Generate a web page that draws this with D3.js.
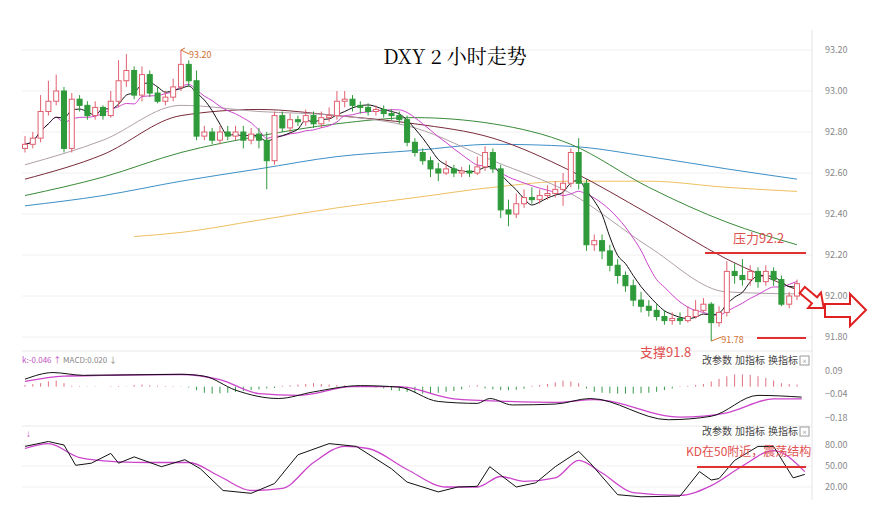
<!DOCTYPE html><html><head><meta charset="utf-8">
<script src="https://cdn.jsdelivr.net/npm/d3@7"></script>
<style>body{margin:0;background:#fff}svg{display:block}</style></head><body>
<svg id="c" width="869" height="520"></svg>
<script>
const opens=[92.72,92.74,92.77,92.90,92.95,93.00,92.72,92.96,92.93,92.88,
92.92,92.88,92.95,93.05,93.10,92.98,93.08,92.99,92.95,92.97,
93.02,93.13,93.05,92.78,92.80,92.76,92.80,92.78,92.80,92.76,
92.79,92.76,92.66,92.88,92.82,92.86,92.85,92.88,92.84,92.87,
92.88,92.95,92.96,92.93,92.92,92.90,92.91,92.89,92.88,92.86,
92.75,92.70,92.66,92.62,92.60,92.62,92.60,92.61,92.60,92.63,
92.70,92.62,92.42,92.40,92.45,92.48,92.47,92.49,92.50,92.52,
92.55,92.70,92.55,92.25,92.27,92.22,92.15,92.10,92.05,91.98,
91.95,91.93,91.90,91.88,91.89,91.88,91.90,91.93,91.96,91.87,
91.92,92.12,92.10,92.08,92.12,92.07,92.12,92.08,91.96,92.00];
const closes=[92.74,92.77,92.90,92.95,93.00,92.72,92.96,92.93,92.88,92.92,
92.88,92.95,93.05,93.10,92.98,93.08,92.99,92.95,92.97,93.02,
93.13,93.05,92.78,92.80,92.76,92.80,92.78,92.80,92.76,92.79,
92.76,92.66,92.88,92.82,92.86,92.85,92.88,92.84,92.87,92.88,
92.95,92.96,92.93,92.92,92.90,92.91,92.89,92.88,92.86,92.75,
92.70,92.66,92.62,92.60,92.62,92.60,92.61,92.60,92.63,92.70,
92.62,92.42,92.40,92.45,92.48,92.47,92.49,92.50,92.52,92.55,
92.70,92.55,92.25,92.27,92.22,92.15,92.10,92.05,91.98,91.95,
91.93,91.90,91.88,91.89,91.88,91.90,91.93,91.96,91.87,91.92,
92.12,92.10,92.08,92.12,92.07,92.12,92.08,91.96,92.00,92.06];
const highs=[92.78,92.80,92.98,93.05,93.08,93.02,92.99,92.98,92.95,92.95,
92.93,93.00,93.15,93.18,93.12,93.12,93.10,93.02,93.00,93.06,
93.20,93.15,93.10,92.83,92.82,92.83,92.83,92.83,92.83,92.82,
92.82,92.80,92.90,92.90,92.89,92.88,92.91,92.90,92.90,92.92,
93.00,93.00,92.98,92.95,92.94,92.93,92.93,92.91,92.90,92.88,
92.77,92.72,92.68,92.65,92.66,92.64,92.63,92.64,92.68,92.73,
92.72,92.64,92.47,92.50,92.52,92.53,92.52,92.54,92.56,92.60,
92.72,92.77,92.57,92.30,92.30,92.25,92.18,92.12,92.08,92.02,
91.98,91.96,91.93,91.92,91.92,91.95,91.98,91.99,91.97,91.95,
92.17,92.16,92.18,92.15,92.14,92.15,92.14,92.10,92.02,92.08];
const lows=[92.70,92.72,92.75,92.88,92.93,92.70,92.70,92.90,92.86,92.86,
92.86,92.87,92.92,93.02,92.96,92.95,92.97,92.94,92.93,92.95,
93.00,93.02,92.76,92.76,92.74,92.74,92.76,92.76,92.72,92.74,
92.72,92.52,92.64,92.80,92.80,92.83,92.83,92.82,92.82,92.85,
92.86,92.92,92.90,92.89,92.88,92.88,92.87,92.86,92.84,92.73,
92.68,92.64,92.58,92.56,92.59,92.58,92.58,92.58,92.59,92.61,
92.60,92.38,92.34,92.38,92.43,92.45,92.45,92.47,92.48,92.44,
92.53,92.52,92.22,92.22,92.18,92.12,92.06,92.02,91.95,91.92,
91.90,91.88,91.86,91.86,91.86,91.87,91.89,91.92,91.78,91.85,
91.90,92.06,92.05,92.05,92.04,92.05,92.05,91.95,91.94,91.98];
const maIdx=[0,10,20,30,40,50,60,70,80,90,99];
const ma20=[92.64,92.76,92.93,92.90,92.88,92.82,92.66,92.50,92.24,92.02,92.01];
const ma30=[92.57,92.69,92.88,92.91,92.88,92.84,92.77,92.61,92.40,92.18,92.03];
const ma60=[92.49,92.58,92.70,92.78,92.84,92.87,92.84,92.74,92.53,92.36,92.25];
const ma120=[92.44,92.49,92.56,92.62,92.68,92.71,92.74,92.73,92.68,92.62,92.57];
const ma250Idx=[14,20,30,40,50,60,70,80,90,99];
const ma250=[92.29,92.31,92.37,92.43,92.48,92.53,92.56,92.56,92.53,92.51];
const priceTicks=[93.2,93.0,92.8,92.6,92.4,92.2,92.0,91.8];
const difIdx=[0,3.6,7.5,20,23,27,32.5,37,43,48,53,58,59.6,62.5,68,72.5,82.5,88,94,99.6];
const difVal=[0.043,0.081,0.065,0.071,0.06,-0.02,-0.068,-0.03,0.006,-0.003,-0.085,-0.096,-0.068,-0.105,-0.10,-0.068,-0.19,-0.17,-0.05,-0.06];
const deaIdx=[0,5,10,20,25,30,35,42,48,55,62,68,73,84,90,96,99.6];
const deaVal=[0.03,0.06,0.065,0.07,0.04,-0.04,-0.05,0.0,0.0,-0.07,-0.085,-0.09,-0.075,-0.175,-0.15,-0.07,-0.07];
const hist=[0.01,0.015,0.02,0.03,0.035,0.02,0.005,0.003,0.002,0.002,
0,0.003,0.004,0.002,0.01,0.012,0.008,0.005,0.004,0.003,
0.002,-0.005,-0.02,-0.035,-0.04,-0.038,-0.035,-0.03,-0.025,-0.02,
-0.015,-0.01,-0.008,0.005,0.008,0.012,0.015,0.02,0.015,0.012,
0.01,0.008,0.005,0.003,0.002,-0.005,-0.01,-0.02,-0.025,-0.03,
-0.035,-0.04,-0.038,-0.035,-0.03,-0.025,-0.015,0.005,0.008,-0.01,
-0.015,-0.02,-0.02,-0.018,-0.012,0.005,0.01,0.015,0.025,0.035,
0.03,0.02,-0.01,-0.03,-0.035,-0.038,-0.04,-0.04,-0.04,-0.038,
-0.035,-0.03,-0.02,-0.01,0.003,0.005,0.01,0.015,0.03,0.045,
0.06,0.07,0.07,0.068,0.06,0.05,0.035,0.02,0.015,0.012];
const macdTicks=[0.09,-0.04,-0.18];
const kIdx=[0,3,5,6.5,8.5,11,12,14,17.5,20.5,22.5,25.4,29,32,35,39,42.5,47,49,53,55.5,58,59.6,63,65.5,68,71,72.5,76,79,84,86.5,88,89,91,94,96,98.5,100];
const kVal=[78,85,80,51,54,68,54,63,49,59,46,15,11,25,66,82,78,46,27,13,20,21,49,20,26,49,71,54,9,6,7,42,30,32,58,78,78,33,38];
const dIdx=[0,3,7,12,16,21,25,29,33,37,41,44,49,54,58,61,64,68,71,74,78,84,88,92,96,100];
const dVal=[75,82,62,56,55,55,35,15,18,55,78,75,45,20,20,35,28,33,58,40,12,8,22,50,72,42];
const kdTicks=[80,50,20];

const svg=d3.select("#c");
const font="'Noto Sans CJK SC','Noto Sans',sans-serif";
const x=d3.scaleLinear().domain([0,99]).range([25,797]);
const y=d3.scaleLinear().domain([91.8,93.2]).range([337,50]);
const ym=d3.scaleLinear().domain([-0.18,0.09]).range([418,371]);
const yk=d3.scaleLinear().domain([20,80]).range([487,445]);
const idx=d3.range(closes.length);

svg.append("g").selectAll("line").data(priceTicks).join("line")
 .attr("x1",22).attr("x2",812).attr("y1",d=>y(d)).attr("y2",d=>y(d)).attr("stroke","#f0f0f0");
svg.append("line").attr("x1",812).attr("x2",812).attr("y1",30).attr("y2",500).attr("stroke","#e4e4e4");
svg.append("line").attr("x1",22).attr("x2",812).attr("y1",351).attr("y2",351).attr("stroke","#e8e8e8");
svg.append("line").attr("x1",22).attr("x2",812).attr("y1",426).attr("y2",426).attr("stroke","#e8e8e8");
svg.append("g").selectAll("line").data(kdTicks).join("line")
 .attr("x1",22).attr("x2",812).attr("y1",d=>yk(d)).attr("y2",d=>yk(d)).attr("stroke","#f0f0f0");

const ax=svg.append("g").attr("transform","translate(822,0)")
 .call(d3.axisRight(y).tickValues(priceTicks).tickFormat(d3.format(".2f")).tickSize(0));
const ax2=svg.append("g").attr("transform","translate(822,0)")
 .call(d3.axisRight(ym).tickValues(macdTicks).tickFormat(d3.format(".2f")).tickSize(0));
const ax3=svg.append("g").attr("transform","translate(822,0)")
 .call(d3.axisRight(yk).tickValues(kdTicks).tickFormat(d3.format(".2f")).tickSize(0));
[ax,ax2,ax3].forEach(a=>{a.select(".domain").remove();a.selectAll("text").attr("fill","#888").attr("font-size",9).attr("font-family",font);});

const line=d3.line().curve(d3.curveMonotoneX);
function ma(n){return idx.map(i=>{const s=closes.slice(Math.max(0,i-n+1),i+1);return d3.mean(s);});}
function drawPts(ix,vals,sc,col,w){svg.append("path").attr("d",line(ix.map((v,j)=>[x(v),sc(vals[j])]))).attr("fill","none").attr("stroke",col).attr("stroke-width",w||1);}
drawPts(ma250Idx,ma250,y,"#f0c060");
drawPts(maIdx,ma120,y,"#3d8fc6");
drawPts(maIdx,ma60,y,"#3a8a3a");
drawPts(maIdx,ma30,y,"#7a2a3a");
drawPts(maIdx,ma20,y,"#b0a0a8");
drawPts(idx,ma(10),y,"#cc44cc");
drawPts(idx,ma(5),y,"#111");

const cw=5;
const g=svg.append("g");
idx.forEach(i=>{
 const up=closes[i]>=opens[i];const col=up?"#e06070":"#2e9a3a";
 g.append("line").attr("x1",x(i)).attr("x2",x(i)).attr("y1",y(highs[i])).attr("y2",y(lows[i])).attr("stroke",col);
 const t=y(Math.max(opens[i],closes[i])),b=y(Math.min(opens[i],closes[i]));
 g.append("rect").attr("x",x(i)-cw/2).attr("y",t).attr("width",cw).attr("height",Math.max(1,b-t))
  .attr("fill",up?"#fff":col).attr("stroke",col);
});

svg.append("text").attr("x",455).attr("y",64).attr("text-anchor","middle").attr("font-size",20)
 .attr("font-family","'Noto Serif CJK SC','DejaVu Serif',serif").text("DXY 2 小时走势");
svg.append("path").attr("d",`M${x(20)},${y(93.2)} l4,-2 M${x(20)},${y(93.2)} l8,4`).attr("stroke","#d07030").attr("fill","none");
svg.append("text").attr("x",x(20)+8).attr("y",y(93.2)+8).attr("fill","#d07030").attr("font-size",9).attr("font-family",font).text("93.20");
svg.append("path").attr("d",`M${x(88)},${y(91.78)} l10,-4`).attr("stroke","#d07030");
svg.append("text").attr("x",x(88)+10).attr("y",y(91.78)+2).attr("fill","#d07030").attr("font-size",9).attr("font-family",font).text("91.78");
svg.append("line").attr("x1",705).attr("x2",806).attr("y1",y(92.2)-2).attr("y2",y(92.2)-2).attr("stroke","#e03030").attr("stroke-width",2);
svg.append("text").attr("x",733).attr("y",243).attr("fill","#e05050").attr("font-size",13).attr("font-family",font).text("压力92.2");
svg.append("line").attr("x1",757).attr("x2",806).attr("y1",y(91.8)+1).attr("y2",y(91.8)+1).attr("stroke","#e03030").attr("stroke-width",2);
svg.append("text").attr("x",640).attr("y",357).attr("fill","#e05050").attr("font-size",13).attr("font-family",font).text("支撑91.8");
const arrow="M-14,-4 L2,-4 L2,-10 L14,0 L2,10 L2,4 L-14,4 Z";
svg.append("path").attr("d",arrow).attr("transform","translate(813,299) rotate(40)").attr("fill","#fff").attr("stroke","#e02020").attr("stroke-width",2);
svg.append("path").attr("d","M825,304 L850,304 L850,294 L866,310 L850,326 L850,317 L825,317 Z").attr("fill","#fff").attr("stroke","#e02020").attr("stroke-width",2);

svg.append("text").attr("x",22).attr("y",363).attr("font-size",8).attr("font-family",font).attr("fill","#c050c0").text("k:-0.046 ↑ ")
 .append("tspan").attr("fill","#888").text("MACD:0.020 ↓");
svg.append("g").selectAll("line").data(idx).join("line")
 .attr("x1",i=>x(i)).attr("x2",i=>x(i)).attr("y1",ym(0)).attr("y2",i=>ym(hist[i]))
 .attr("stroke",i=>hist[i]>=0?"#e07080":"#3a9a4a");
drawPts(deaIdx,deaVal,ym,"#cc44cc",1.3);
drawPts(difIdx,difVal,ym,"#111",1);
["改参数","加指标","换指标"].forEach((t,j)=>{[364,435].forEach(yy=>{
 svg.append("text").attr("x",702+j*33).attr("y",yy).attr("font-size",10).attr("font-family",font).attr("fill","#444").text(t);});});
[356,427].forEach(yy=>{svg.append("rect").attr("x",800).attr("y",yy).attr("width",9).attr("height",9).attr("fill","none").attr("stroke","#999");
 svg.append("text").attr("x",804.5).attr("y",yy+8).attr("text-anchor","middle").attr("font-size",8).attr("fill","#888").text("×");});

svg.append("text").attr("x",26).attr("y",437).attr("font-size",10).attr("fill","#c050c0").text("↓");
drawPts(dIdx,dVal,yk,"#cc44cc",1.3);
svg.append("path").attr("d",d3.line()(kIdx.map((v,j)=>[x(v),yk(kVal[j])]))).attr("fill","none").attr("stroke","#111");
svg.append("line").attr("x1",697).attr("x2",806).attr("y1",yk(50)+1).attr("y2",yk(50)+1).attr("stroke","#e03030").attr("stroke-width",2);
svg.append("text").attr("x",686).attr("y",456).attr("fill","#e05050").attr("font-size",12).attr("font-family",font).text("KD在50附近，震荡结构");
</script></body></html>
